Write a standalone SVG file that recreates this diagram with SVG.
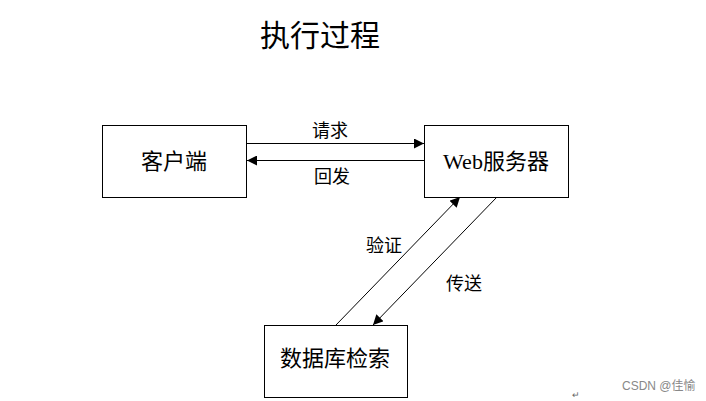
<svg xmlns="http://www.w3.org/2000/svg" width="706" height="401" viewBox="0 0 706 401">
<defs>
<style>
.box{fill:#fff;stroke:#000;stroke-width:1}
.t{font-family:"Liberation Serif","Noto Sans CJK SC",serif;fill:#000;text-anchor:middle;dominant-baseline:central}
.c{stroke:#000;stroke-width:1;fill:none}
</style>
<marker id="ah" viewBox="0 0 10 10" refX="10" refY="5" markerWidth="10" markerHeight="10" markerUnits="userSpaceOnUse" orient="auto">
<path d="M0,0 L10,5 L0,10 z" fill="#000"/>
</marker>
</defs>
<rect width="706" height="401" fill="#fff"/>
<text class="t" x="320" y="35" font-size="30">执行过程</text>
<g id="client">
<rect class="box" x="102.5" y="125.5" width="144" height="72"/>
<text class="t" x="174" y="161" font-size="22">客户端</text>
</g>
<g id="web">
<rect class="box" x="424.5" y="125.5" width="144" height="72"/>
<text class="t" x="496" y="161" font-size="22">Web服务器</text>
</g>
<g id="db">
<rect class="box" x="264.5" y="325.5" width="143" height="72"/>
<text class="t" x="335" y="358" font-size="22">数据库检索</text>
</g>
<g id="connectors">
<line class="c" x1="247" y1="143.5" x2="424" y2="143.5" marker-end="url(#ah)"/>
<line class="c" x1="424" y1="160.5" x2="247" y2="160.5" marker-end="url(#ah)"/>
<line class="c" x1="336" y1="325" x2="460" y2="197" marker-end="url(#ah)"/>
<line class="c" x1="497" y1="197" x2="373" y2="325" marker-end="url(#ah)"/>
<text class="t" x="330" y="131" font-size="18">请求</text>
<text class="t" x="332" y="177" font-size="18">回发</text>
<text class="t" x="384" y="246" font-size="18">验证</text>
<text class="t" x="464" y="284" font-size="18">传送</text>
</g>
<text x="622" y="390" font-family="Liberation Sans,Noto Sans CJK SC,sans-serif" font-size="12" fill="#888">CSDN @佳愉</text>
<text x="572" y="398" font-family="Liberation Sans,Noto Sans CJK SC,sans-serif" font-size="9" fill="#666">↵</text>
</svg>
